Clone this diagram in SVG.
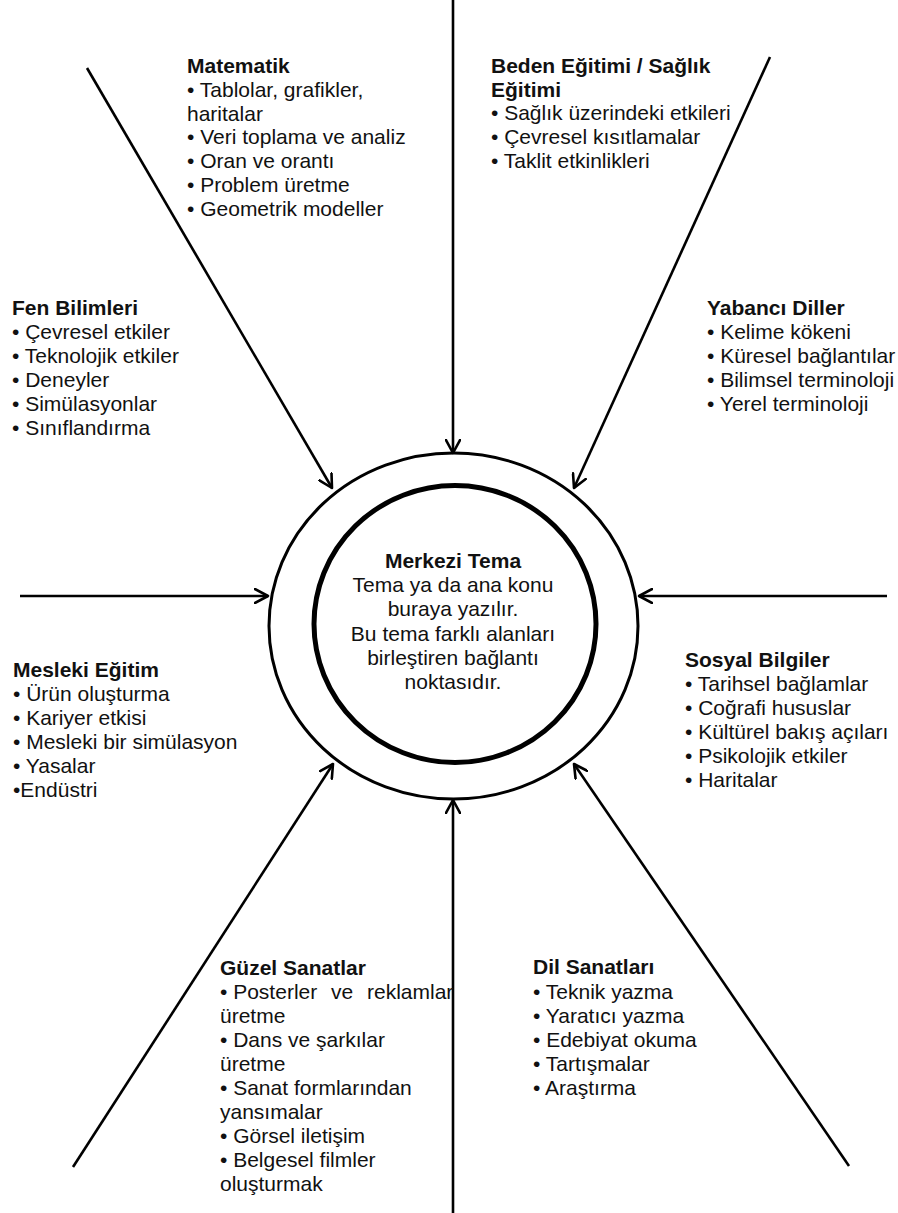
<svg xmlns="http://www.w3.org/2000/svg" width="898" height="1213" viewBox="0 0 898 1213">
  <defs>
    <marker id="arrow" viewBox="0 0 16 16" refX="14" refY="8" markerWidth="16" markerHeight="16" markerUnits="userSpaceOnUse" orient="auto">
      <path d="M1,1 L14,8 L1,15" fill="none" stroke="#000" stroke-width="2.6" stroke-linejoin="round" stroke-linecap="round"/>
    </marker>
  </defs>
  <style>
    text { font-family: "Liberation Sans", Arial, sans-serif; font-size: 21px; fill: #111; }
    .h { font-weight: bold; }
    .c { text-anchor: middle; }
    .link { stroke: #000; stroke-width: 2.6; fill: none; marker-end: url(#arrow); }
  </style>
  <rect width="898" height="1213" fill="#fff"/>

  <!-- connectors pointing to the central theme -->
  <g id="connectors">
    <line class="link" x1="453" y1="0" x2="453" y2="453"/>
    <line class="link" x1="453" y1="1213" x2="453" y2="800"/>
    <line class="link" x1="20" y1="596" x2="268" y2="596"/>
    <line class="link" x1="887" y1="596" x2="639" y2="596"/>
    <line class="link" x1="87" y1="68" x2="332" y2="488"/>
    <line class="link" x1="770" y1="57" x2="574" y2="488"/>
    <line class="link" x1="73" y1="1167" x2="333" y2="764"/>
    <line class="link" x1="849" y1="1166" x2="574" y2="764"/>
  </g>

  <!-- central theme -->
  <g id="center">
    <ellipse cx="453.5" cy="626" rx="184.5" ry="173" fill="none" stroke="#000" stroke-width="3"/>
    <ellipse cx="455" cy="624" rx="141" ry="138.5" fill="none" stroke="#000" stroke-width="5"/>
    <text class="h c" x="453" y="568">Merkezi Tema</text>
    <text class="c" x="453" y="592">Tema ya da ana konu</text>
    <text class="c" x="453" y="616">buraya yazılır.</text>
    <text class="c" x="453" y="641">Bu tema farklı alanları</text>
    <text class="c" x="453" y="665">birleştiren bağlantı</text>
    <text class="c" x="453" y="689">noktasıdır.</text>
  </g>

  <g id="matematik">
    <text class="h" x="187" y="73">Matematik</text>
    <text x="187" y="97">• Tablolar, grafikler,</text>
    <text x="187" y="121">haritalar</text>
    <text x="187" y="144">• Veri toplama ve analiz</text>
    <text x="187" y="168">• Oran ve orantı</text>
    <text x="187" y="192">• Problem üretme</text>
    <text x="187" y="216">• Geometrik modeller</text>
  </g>

  <g id="beden-egitimi">
    <text class="h" x="491" y="73">Beden Eğitimi / Sağlık</text>
    <text class="h" x="491" y="97">Eğitimi</text>
    <text x="491" y="120">• Sağlık üzerindeki etkileri</text>
    <text x="491" y="144">• Çevresel kısıtlamalar</text>
    <text x="491" y="168">• Taklit etkinlikleri</text>
  </g>

  <g id="fen-bilimleri">
    <text class="h" x="12" y="315">Fen Bilimleri</text>
    <text x="12" y="339">• Çevresel etkiler</text>
    <text x="12" y="363">• Teknolojik etkiler</text>
    <text x="12" y="387">• Deneyler</text>
    <text x="12" y="411">• Simülasyonlar</text>
    <text x="12" y="435">• Sınıflandırma</text>
  </g>

  <g id="yabanci-diller">
    <text class="h" x="707" y="315">Yabancı Diller</text>
    <text x="707" y="339">• Kelime kökeni</text>
    <text x="707" y="363">• Küresel bağlantılar</text>
    <text x="707" y="387">• Bilimsel terminoloji</text>
    <text x="707" y="411">• Yerel terminoloji</text>
  </g>

  <g id="mesleki-egitim">
    <text class="h" x="13" y="677">Mesleki Eğitim</text>
    <text x="13" y="701">• Ürün oluşturma</text>
    <text x="13" y="725">• Kariyer etkisi</text>
    <text x="13" y="749">• Mesleki bir simülasyon</text>
    <text x="13" y="773">• Yasalar</text>
    <text x="13" y="797">•Endüstri</text>
  </g>

  <g id="sosyal-bilgiler">
    <text class="h" x="685" y="667">Sosyal Bilgiler</text>
    <text x="685" y="691">• Tarihsel bağlamlar</text>
    <text x="685" y="715">• Coğrafi hususlar</text>
    <text x="685" y="739">• Kültürel bakış açıları</text>
    <text x="685" y="763">• Psikolojik etkiler</text>
    <text x="685" y="787">• Haritalar</text>
  </g>

  <g id="guzel-sanatlar">
    <text class="h" x="220" y="975">Güzel Sanatlar</text>
    <!-- justified line: words spread across the column -->
    <text y="999"><tspan x="220">• Posterler</tspan><tspan x="331">ve</tspan><tspan x="367">reklamlar</tspan></text>
    <text x="220" y="1023">üretme</text>
    <text x="220" y="1047">• Dans ve şarkılar</text>
    <text x="220" y="1071">üretme</text>
    <text x="220" y="1095">• Sanat formlarından</text>
    <text x="220" y="1119">yansımalar</text>
    <text x="220" y="1143">• Görsel iletişim</text>
    <text x="220" y="1167">• Belgesel filmler</text>
    <text x="220" y="1191">oluşturmak</text>
  </g>

  <g id="dil-sanatlari">
    <text class="h" x="533" y="974">Dil Sanatları</text>
    <text x="533" y="999">• Teknik yazma</text>
    <text x="533" y="1023">• Yaratıcı yazma</text>
    <text x="533" y="1047">• Edebiyat okuma</text>
    <text x="533" y="1071">• Tartışmalar</text>
    <text x="533" y="1095">• Araştırma</text>
  </g>
</svg>
